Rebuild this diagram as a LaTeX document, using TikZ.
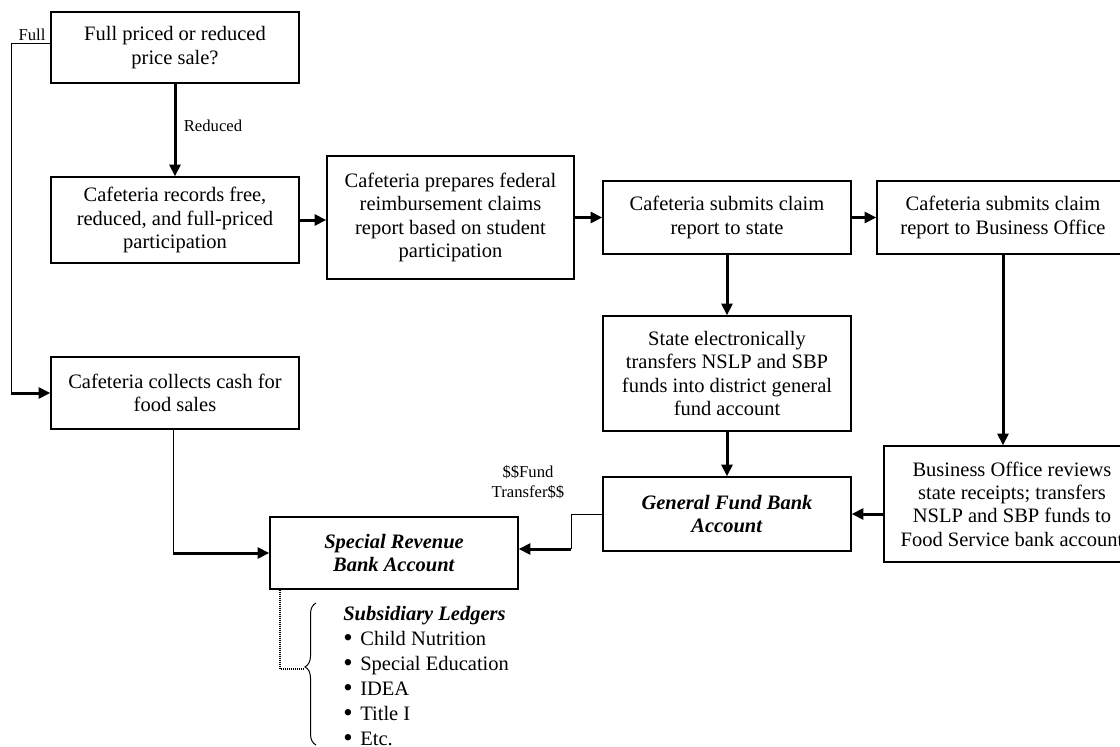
\documentclass[tikz,border=0pt]{standalone}
\usepackage{fontspec}
\setmainfont{Liberation Serif}
\usetikzlibrary{arrows.meta,decorations.pathreplacing}
\begin{document}
\begin{tikzpicture}[x=.6pt,y=-.6pt,line join=miter,
 font=\fontsize{12.3}{14}\selectfont,
 box/.style={draw,line width=.8pt,align=center,inner sep=2pt},
 link/.style={line width=.6pt},
 flow/.style={line width=1.8pt,-{Triangle[length=7pt,width=6.5pt]}},
 lbl/.style={font=\fontsize{10}{12}\selectfont,align=center,inner sep=0pt},
 ledgerdots/.style={line width=1.2pt,dash pattern=on .6pt off .6pt}]
\useasboundingbox (0,0) rectangle (1120,747);
% top row: sale question, then the claim chain
\node[box,minimum width=148.8pt,minimum height=42.6pt] (sale) at (175,47.5)
 {Full priced or reduced\\ price sale?};
\node[box,minimum width=148.8pt,minimum height=51.6pt] (records) at (175,220)
 {Cafeteria records free,\\ reduced, and full-priced\\ participation};
\node[box,minimum width=148.2pt,minimum height=73.8pt] (prepares) at (450.5,217.5)
 {Cafeteria prepares federal\\ reimbursement claims\\ report based on student\\ participation};
\node[box,minimum width=148.8pt,minimum height=43.8pt] (tostate) at (727,217.5)
 {Cafeteria submits claim\\ report to state};
\node[box,minimum width=151.2pt,minimum height=43.8pt] (tooffice) at (1003,217.5)
 {Cafeteria submits claim\\ report to Business Office};
% state and business office transfers
\node[box,minimum width=148.8pt,minimum height=69pt] (statexfer) at (727,373.5)
 {State electronically\\ transfers NSLP and SBP\\ funds into district general\\ fund account};
\node[box,minimum width=148.8pt,minimum height=44.4pt] (general) at (727,514)
 {\textbf{\textit{General Fund Bank}}\\ \textbf{\textit{Account}}};
\node[box,minimum width=153.6pt,minimum height=69.6pt] (review) at (1012,504)
 {Business Office reviews\\ state receipts; transfers\\ NSLP and SBP funds to\\ Food Service bank account};
% cash side and special revenue account
\node[box,minimum width=148.8pt,minimum height=43.2pt] (cash) at (175,393)
 {Cafeteria collects cash for\\ food sales};
\node[box,minimum width=148.8pt,minimum height=43.2pt] (special) at (394,553)
 {\textbf{\textit{Special Revenue}}\\ \textbf{\textit{Bank Account}}};
% labels
\node[lbl] (fulllbl) at (32,35) {Full};
\node[lbl] (reducedlbl) at (213,126) {Reduced};
\node[lbl] (fundlbl) at (528,482) {\$\$Fund\\ Transfer\$\$};
% connectors
\coordinate (fullbend) at (11,393);
\coordinate (cashbend) at (173,553);
\coordinate (xferbend) at (571,549);
\coordinate (ledgerbend) at (280,669);
\coordinate (bracetip) at (303,669);
\draw[flow] (sale.south) -- (records.north);
\draw[flow] (records.east) -- (records.east -| prepares.west);
\draw[flow] (prepares.east) -- (prepares.east -| tostate.west);
\draw[flow] (tostate.east) -- (tooffice.west);
\draw[flow] (tostate.south) -- (statexfer.north);
\draw[flow] (statexfer.south) -- (general.north);
\draw[flow] (tooffice.south) -- (tooffice.south |- review.north);
\draw[flow] (review.west |- general.east) -- (general.east);
\draw[link] ([yshift=2.7pt]sale.west) -| (fullbend);
\draw[flow] (fullbend) -- (cash.west);
\draw[link] (cash.south -| cashbend) -- (cashbend);
\draw[flow] (cashbend) -- (special.west);
\draw[link] (general.west) -| (xferbend);
\draw[flow] (xferbend) -- (special.east |- xferbend);
% subsidiary ledgers
\draw[ledgerdots] (special.south -| ledgerbend) -- (ledgerbend) -- (bracetip);
\draw[link,decorate,decoration={brace,amplitude=6.6pt,aspect=.55}]
 (316,745) -- (316,603);
\node[anchor=north west,align=left,inner sep=0pt,
 font=\fontsize{12.3}{15}\selectfont] (ledgers) at (343,606)
 {\textbf{\textit{Subsidiary Ledgers}}\\
  \makebox[10.2pt][l]{\raisebox{-.4pt}{\fontsize{16}{0}\selectfont\textbullet}}Child Nutrition\\
  \makebox[10.2pt][l]{\raisebox{-.4pt}{\fontsize{16}{0}\selectfont\textbullet}}Special Education\\
  \makebox[10.2pt][l]{\raisebox{-.4pt}{\fontsize{16}{0}\selectfont\textbullet}}IDEA\\
  \makebox[10.2pt][l]{\raisebox{-.4pt}{\fontsize{16}{0}\selectfont\textbullet}}Title I\\
  \makebox[10.2pt][l]{\raisebox{-.4pt}{\fontsize{16}{0}\selectfont\textbullet}}Etc.};
\end{tikzpicture}
\end{document}
